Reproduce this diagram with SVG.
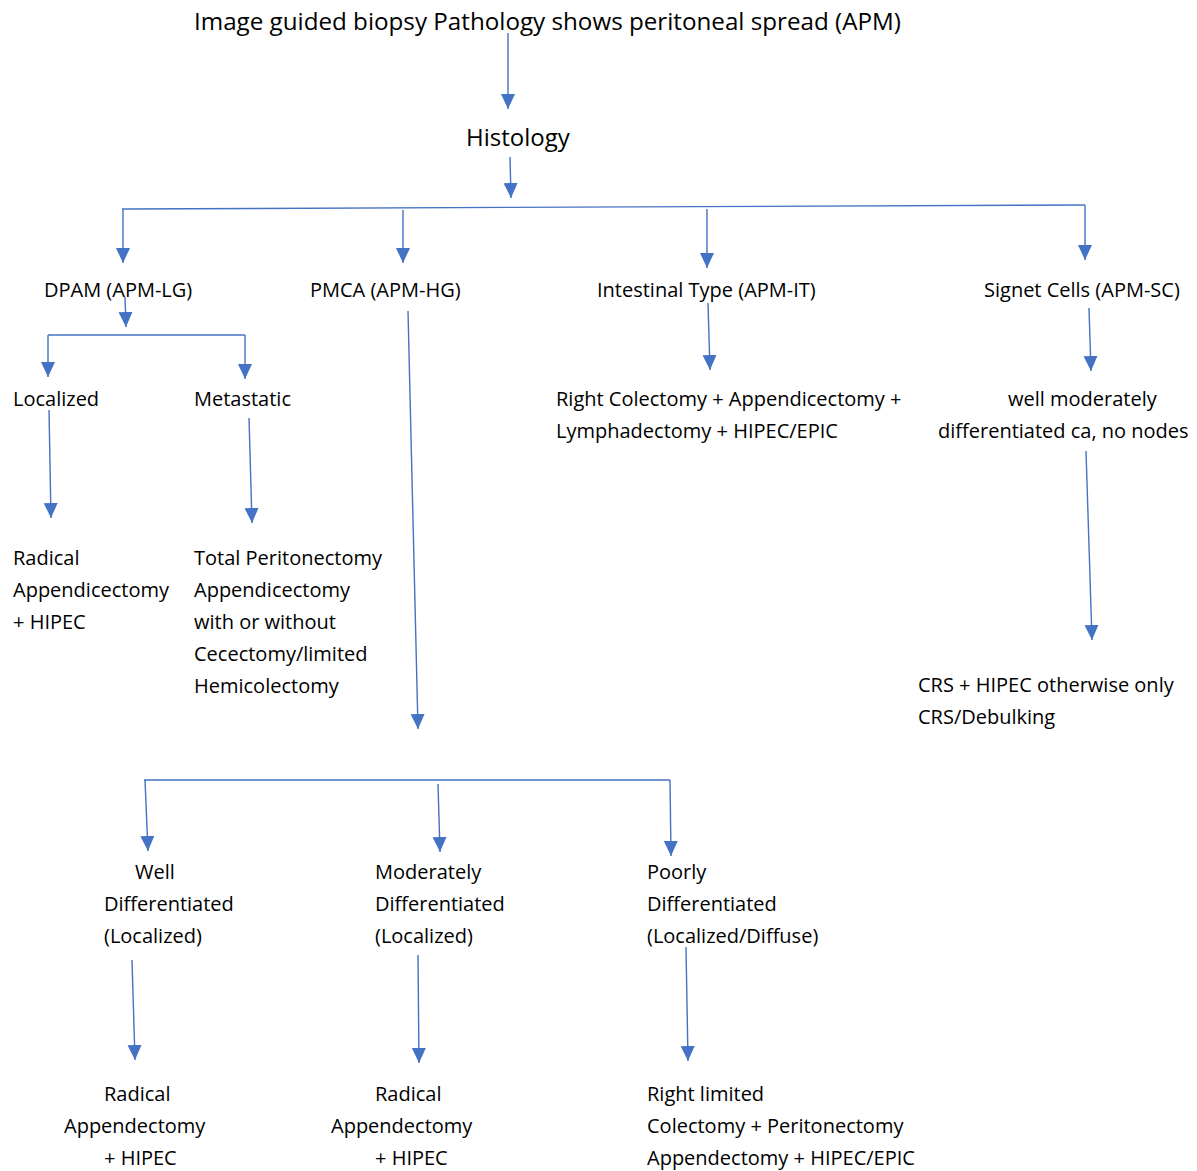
<svg xmlns="http://www.w3.org/2000/svg" width="1197" height="1171" viewBox="0 0 1197 1171">
<style>
text{font-family:"Open Sans","DejaVu Sans",sans-serif;font-size:20px;fill:#000}
.big{font-size:24px}
.c line,.c polyline{stroke:#4472C4;stroke-width:1.4;fill:none}
.a{marker-end:url(#ah)}
</style>
<defs>
<marker id="ah" markerUnits="userSpaceOnUse" markerWidth="16" markerHeight="16" viewBox="0 0 16 14" refX="15" refY="7" orient="auto">
<path d="M0,0 L15,7 L0,14 z" fill="#4472C4"/>
</marker>
</defs>
<rect width="1197" height="1171" fill="#fff"/>
<g class="c" id="connectors">
<line class="a" x1="508" y1="33" x2="508" y2="109"/>
<line class="a" x1="510" y1="157" x2="511" y2="198"/>
<line x1="122" y1="209" x2="1085" y2="205"/>
<line class="a" x1="123" y1="209" x2="123" y2="263"/>
<line class="a" x1="403" y1="210" x2="403" y2="263"/>
<line class="a" x1="707" y1="209" x2="707" y2="268"/>
<line class="a" x1="1085" y1="205" x2="1085" y2="260"/>
<line class="a" x1="125" y1="297" x2="126" y2="327"/>
<line x1="48" y1="335" x2="245" y2="335"/>
<line class="a" x1="48" y1="335" x2="48" y2="377"/>
<line class="a" x1="245" y1="335" x2="245" y2="379"/>
<line class="a" x1="49" y1="410" x2="51" y2="518"/>
<line class="a" x1="249" y1="418" x2="252" y2="523"/>
<line class="a" x1="408" y1="311" x2="418" y2="729"/>
<line class="a" x1="708" y1="303" x2="710" y2="370"/>
<line class="a" x1="1089" y1="308" x2="1091" y2="371"/>
<line class="a" x1="1086" y1="451" x2="1092" y2="640"/>
<line x1="144" y1="780" x2="670" y2="780"/>
<line class="a" x1="145" y1="780" x2="148" y2="851"/>
<line class="a" x1="438" y1="784" x2="440" y2="852"/>
<line class="a" x1="670" y1="780" x2="671" y2="856"/>
<line class="a" x1="132" y1="960" x2="135" y2="1060"/>
<line class="a" x1="418" y1="955" x2="419" y2="1063"/>
<line class="a" x1="686" y1="947" x2="688" y2="1061"/>
</g>
<g id="title"><text class="big" x="194" y="30" style="font-size:24.2px">Image guided biopsy Pathology shows peritoneal spread (APM)</text></g>
<g id="histology"><text class="big" x="466" y="146">Histology</text></g>
<g id="dpam"><text x="44" y="297">DPAM (APM-LG)</text></g>
<g id="pmca"><text x="310" y="297">PMCA (APM-HG)</text></g>
<g id="intestinal"><text x="597" y="297">Intestinal Type (APM-IT)</text></g>
<g id="signet"><text x="984" y="297">Signet Cells (APM-SC)</text></g>
<g id="localized"><text x="13" y="406">Localized</text></g>
<g id="metastatic"><text x="194" y="406">Metastatic</text></g>
<g id="it-treat"><text x="556" y="406">Right Colectomy + Appendicectomy +</text><text x="556" y="438">Lymphadectomy + HIPEC/EPIC</text></g>
<g id="sc-grade"><text x="1008" y="406">well moderately</text><text x="938" y="438">differentiated ca, no nodes</text></g>
<g id="loc-treat"><text x="13" y="565">Radical</text><text x="13" y="597">Appendicectomy</text><text x="13" y="629">+ HIPEC</text></g>
<g id="met-treat"><text x="194" y="565">Total Peritonectomy</text><text x="194" y="597">Appendicectomy</text><text x="194" y="629">with or without</text><text x="194" y="661">Cecectomy/limited</text><text x="194" y="693">Hemicolectomy</text></g>
<g id="sc-treat"><text x="918" y="692">CRS + HIPEC otherwise only</text><text x="918" y="724">CRS/Debulking</text></g>
<g id="well"><text x="135" y="879">Well</text><text x="104" y="911">Differentiated</text><text x="104" y="943">(Localized)</text></g>
<g id="moderate"><text x="375" y="879">Moderately</text><text x="375" y="911">Differentiated</text><text x="375" y="943">(Localized)</text></g>
<g id="poorly"><text x="647" y="879">Poorly</text><text x="647" y="911">Differentiated</text><text x="647" y="943">(Localized/Diffuse)</text></g>
<g id="well-treat"><text x="104" y="1101">Radical</text><text x="64" y="1133">Appendectomy</text><text x="104" y="1165">+ HIPEC</text></g>
<g id="mod-treat"><text x="375" y="1101">Radical</text><text x="331" y="1133">Appendectomy</text><text x="375" y="1165">+ HIPEC</text></g>
<g id="poor-treat"><text x="647" y="1101">Right limited</text><text x="647" y="1133">Colectomy + Peritonectomy</text><text x="647" y="1165">Appendectomy + HIPEC/EPIC</text></g>
</svg>
